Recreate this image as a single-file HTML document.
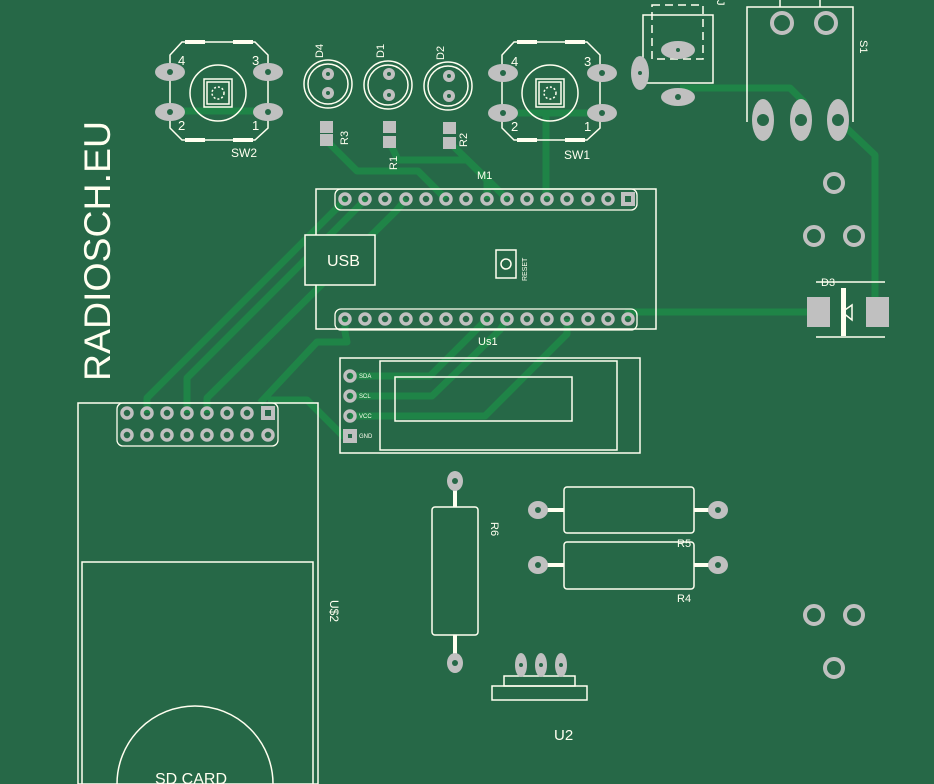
<!DOCTYPE html>
<html><head><meta charset="utf-8"><style>
html,body{margin:0;padding:0;background:#266847;}
svg{display:block}
text{font-family:"Liberation Sans",sans-serif;fill:#fffff0}
</style></head><body>
<svg width="934" height="784" viewBox="0 0 934 784" xmlns="http://www.w3.org/2000/svg">
<rect width="934" height="784" fill="#266847"/>
<g stroke="#1f8447" stroke-width="7" fill="none" stroke-linejoin="round">
<polyline points="172,111 268,111"/>
<polyline points="503,113 602,113"/>
<polyline points="546,113 546,199"/>
<polyline points="838,120 875,155 875,312 877,312"/>
<polyline points="818,312 628,312 628,319"/>
<polyline points="680,88 790,88 805,103"/>
<polyline points="326,140 357,171 418,171 437,190 446,199"/>
<polyline points="389,141 398,160 467,160 487,180 487,199"/>
<polyline points="449,142 480,172 507,199"/>
<polyline points="345,199 340,205 147,398 147,413"/>
<polyline points="366,199 355,210 187,378 187,413"/>
<polyline points="406,199 397,210 207,398 207,413"/>
<polyline points="345,319 345,332 347,342 317,342 260,403"/>
<polyline points="268,400 307,400 343,436 350,436"/>
<polyline points="350,376 430,376 473,333 487,319"/>
<polyline points="350,396 432,396 500,330 507,319"/>
<polyline points="350,416 485,416 567,334 567,319"/>
</g>

<text transform="translate(110,381) rotate(-90)" font-size="37" textLength="260" lengthAdjust="spacingAndGlyphs">RADIOSCH.EU</text>

<g stroke="#fffff0" fill="none" stroke-width="1.5">
<polygon points="182,42 255,42 268,55 268,128 255,140 182,140 170,128 170,55"/>
<circle cx="218" cy="93" r="28"/>
<rect x="204" y="79" width="28" height="28"/><rect x="207" y="82" width="22" height="22"/>
<circle cx="218" cy="93" r="6" stroke-dasharray="2,2"/>
<polygon points="514,42 587,42 600,55 600,128 587,140 514,140 502,128 502,55"/>
<circle cx="550" cy="93" r="28"/>
<rect x="536" y="79" width="28" height="28"/><rect x="539" y="82" width="22" height="22"/>
<circle cx="550" cy="93" r="6" stroke-dasharray="2,2"/>
</g>
<g fill="#fffff0">
<rect x="185" y="40" width="20" height="4"/><rect x="233" y="40" width="20" height="4"/>
<rect x="185" y="138" width="20" height="4"/><rect x="233" y="138" width="20" height="4"/>
<rect x="517" y="40" width="20" height="4"/><rect x="565" y="40" width="20" height="4"/>
<rect x="517" y="138" width="20" height="4"/><rect x="565" y="138" width="20" height="4"/>
</g>
<g fill="#c0c0c0">
<ellipse cx="170" cy="72" rx="15" ry="9"/><ellipse cx="268" cy="72" rx="15" ry="9"/>
<ellipse cx="170" cy="112" rx="15" ry="9"/><ellipse cx="268" cy="112" rx="15" ry="9"/>
<ellipse cx="503" cy="73" rx="15" ry="9"/><ellipse cx="602" cy="73" rx="15" ry="9"/>
<ellipse cx="503" cy="113" rx="15" ry="9"/><ellipse cx="602" cy="113" rx="15" ry="9"/>
</g>
<g fill="#266847">
<circle cx="170" cy="72" r="3"/><circle cx="268" cy="72" r="3"/><circle cx="170" cy="112" r="3"/><circle cx="268" cy="112" r="3"/>
<circle cx="503" cy="73" r="3"/><circle cx="602" cy="73" r="3"/><circle cx="503" cy="113" r="3"/><circle cx="602" cy="113" r="3"/>
</g>
<g font-size="13">
<text x="178" y="65">4</text><text x="252" y="65">3</text><text x="178" y="130">2</text><text x="252" y="130">1</text>
<text x="511" y="66">4</text><text x="584" y="66">3</text><text x="511" y="131">2</text><text x="584" y="131">1</text>
<text x="231" y="157" font-size="12">SW2</text><text x="564" y="159" font-size="12">SW1</text>
</g>

<g stroke="#fffff0" fill="none" stroke-width="1.5">
<circle cx="328" cy="84" r="24"/><circle cx="328" cy="84" r="20"/>
<circle cx="388" cy="85" r="24"/><circle cx="388" cy="85" r="20"/>
<circle cx="448" cy="86" r="24"/><circle cx="448" cy="86" r="20"/>
</g>
<g fill="#c0c0c0">
<circle cx="328" cy="74" r="6"/><circle cx="328" cy="93" r="6"/>
<circle cx="389" cy="74" r="6"/><circle cx="389" cy="95" r="6"/>
<circle cx="449" cy="76" r="6"/><circle cx="449" cy="96" r="6"/>
<rect x="320" y="121" width="13" height="12"/><rect x="320" y="134" width="13" height="12"/>
<rect x="383" y="121" width="13" height="12"/><rect x="383" y="136" width="13" height="12"/>
<rect x="443" y="122" width="13" height="12"/><rect x="443" y="137" width="13" height="12"/>
</g>
<g fill="#266847"><circle cx="328" cy="74" r="2"/><circle cx="328" cy="93" r="2"/><circle cx="389" cy="74" r="2"/><circle cx="389" cy="95" r="2"/><circle cx="449" cy="76" r="2"/><circle cx="449" cy="96" r="2"/></g>
<g font-size="11">
<text transform="translate(323,58) rotate(-90)">D4</text>
<text transform="translate(384,58) rotate(-90)">D1</text>
<text transform="translate(444,60) rotate(-90)">D2</text>
<text transform="translate(348,145) rotate(-90)">R3</text>
<text transform="translate(397,170) rotate(-90)">R1</text>
<text transform="translate(467,147) rotate(-90)">R2</text>
<text x="477" y="179">M1</text>
<text x="478" y="345">Us1</text>
</g>

<g stroke="#fffff0" fill="none" stroke-width="1.5">
<rect x="316" y="189" width="340" height="140"/>
<rect x="305" y="235" width="70" height="50" fill="#266847"/>
<rect x="496" y="250" width="20" height="28"/><circle cx="506" cy="264" r="5"/>
<rect x="340" y="358" width="300" height="95"/>
<rect x="380" y="361" width="237" height="89"/>
<rect x="395" y="377" width="177" height="44"/>
<rect x="78" y="403" width="240" height="381"/>
<rect x="82" y="562" width="231" height="230"/>
<path d="M117,784 A78,78 0 0 1 273,784"/>
</g>
<text x="327" y="266" font-size="16">USB</text>
<text transform="translate(527,281) rotate(-90)" font-size="7">RESET</text>
<g fill="none" stroke="#c0c0c0" stroke-width="3.5">
<circle cx="345" cy="199" r="5"/><circle cx="365" cy="199" r="5"/><circle cx="385" cy="199" r="5"/><circle cx="406" cy="199" r="5"/><circle cx="426" cy="199" r="5"/><circle cx="446" cy="199" r="5"/><circle cx="466" cy="199" r="5"/><circle cx="487" cy="199" r="5"/><circle cx="507" cy="199" r="5"/><circle cx="527" cy="199" r="5"/><circle cx="547" cy="199" r="5"/><circle cx="567" cy="199" r="5"/><circle cx="588" cy="199" r="5"/><circle cx="608" cy="199" r="5"/>
<circle cx="345" cy="319" r="5"/><circle cx="365" cy="319" r="5"/><circle cx="385" cy="319" r="5"/><circle cx="406" cy="319" r="5"/><circle cx="426" cy="319" r="5"/><circle cx="446" cy="319" r="5"/><circle cx="466" cy="319" r="5"/><circle cx="487" cy="319" r="5"/><circle cx="507" cy="319" r="5"/><circle cx="527" cy="319" r="5"/><circle cx="547" cy="319" r="5"/><circle cx="567" cy="319" r="5"/><circle cx="588" cy="319" r="5"/><circle cx="608" cy="319" r="5"/><circle cx="628" cy="319" r="5"/>
<circle cx="127" cy="413" r="5"/><circle cx="147" cy="413" r="5"/><circle cx="167" cy="413" r="5"/><circle cx="187" cy="413" r="5"/><circle cx="207" cy="413" r="5"/><circle cx="227" cy="413" r="5"/><circle cx="247" cy="413" r="5"/>
<circle cx="127" cy="435" r="5"/><circle cx="147" cy="435" r="5"/><circle cx="167" cy="435" r="5"/><circle cx="187" cy="435" r="5"/><circle cx="207" cy="435" r="5"/><circle cx="227" cy="435" r="5"/><circle cx="247" cy="435" r="5"/><circle cx="268" cy="435" r="5"/>
<circle cx="350" cy="376" r="5"/><circle cx="350" cy="396" r="5"/><circle cx="350" cy="416" r="5"/>
</g>
<g fill="#c0c0c0">
<rect x="621" y="192" width="14" height="14"/>
<rect x="261" y="406" width="14" height="14"/>
<rect x="343" y="429" width="14" height="14"/>
</g>
<g fill="#266847"><rect x="625" y="196" width="6" height="6"/><rect x="265" y="410" width="6" height="6"/><rect x="348" y="434" width="4" height="4"/></g>
<g stroke="#fffff0" fill="none" stroke-width="1.3">
<rect x="335" y="189" width="302" height="21" rx="6"/>
<rect x="335" y="309" width="302" height="21" rx="6"/>
<rect x="117" y="403" width="161" height="43" rx="6"/>
</g>
<g font-size="6"><text x="359" y="378">SDA</text><text x="359" y="398">SCL</text><text x="359" y="418">VCC</text><text x="359" y="438">GND</text></g>
<text transform="translate(330,600) rotate(90)" font-size="12">U$2</text>
<text x="155" y="784" font-size="16">SD CARD</text>

<g stroke="#fffff0" stroke-width="4"><line x1="455" y1="481" x2="455" y2="507"/><line x1="455" y1="635" x2="455" y2="663"/>
<line x1="538" y1="510" x2="564" y2="510"/><line x1="694" y1="510" x2="718" y2="510"/>
<line x1="538" y1="565" x2="564" y2="565"/><line x1="694" y1="565" x2="718" y2="565"/></g>
<g stroke="#fffff0" fill="none" stroke-width="1.5">
<rect x="432" y="507" width="46" height="128" rx="3"/>
<rect x="564" y="487" width="130" height="46" rx="3"/>
<rect x="564" y="542" width="130" height="47" rx="3"/>
<rect x="504" y="676" width="71" height="10"/>
<rect x="492" y="686" width="95" height="14"/>
<rect x="643" y="15" width="70" height="68"/>
<rect x="652" y="5" width="51" height="54" stroke-dasharray="8,5"/>
<polyline points="747,122 747,7 853,7 853,122"/>
<line x1="780" y1="0" x2="780" y2="7"/><line x1="820" y1="0" x2="820" y2="7"/>
<line x1="816" y1="282" x2="885" y2="282"/><line x1="816" y1="337" x2="885" y2="337"/>
<polygon points="852,305 852,320 842,312"/>
</g>
<rect x="841" y="288" width="5" height="48" fill="#fffff0"/>
<g fill="#c0c0c0">
<ellipse cx="455" cy="481" rx="8" ry="10"/><ellipse cx="455" cy="663" rx="8" ry="10"/>
<ellipse cx="538" cy="510" rx="10" ry="9"/><ellipse cx="718" cy="510" rx="10" ry="9"/>
<ellipse cx="538" cy="565" rx="10" ry="9"/><ellipse cx="718" cy="565" rx="10" ry="9"/>
<ellipse cx="521" cy="665" rx="6" ry="12"/><ellipse cx="541" cy="665" rx="6" ry="12"/><ellipse cx="561" cy="665" rx="6" ry="12"/>
<ellipse cx="678" cy="50" rx="17" ry="9"/><ellipse cx="640" cy="73" rx="9" ry="17"/><ellipse cx="678" cy="97" rx="17" ry="9"/>
<ellipse cx="763" cy="120" rx="11" ry="21"/><ellipse cx="801" cy="120" rx="11" ry="21"/><ellipse cx="838" cy="120" rx="11" ry="21"/>
<rect x="807" y="297" width="23" height="30"/><rect x="866" y="297" width="23" height="30"/>
</g>
<g fill="#266847"><circle cx="455" cy="481" r="3"/><circle cx="455" cy="663" r="3"/><circle cx="538" cy="510" r="3"/><circle cx="718" cy="510" r="3"/><circle cx="538" cy="565" r="3"/><circle cx="718" cy="565" r="3"/>
<circle cx="521" cy="665" r="2"/><circle cx="541" cy="665" r="2"/><circle cx="561" cy="665" r="2"/>
<circle cx="678" cy="50" r="2"/><circle cx="640" cy="73" r="2"/><circle cx="678" cy="97" r="3"/>
<circle cx="763" cy="120" r="6"/><circle cx="801" cy="120" r="6"/><circle cx="838" cy="120" r="6"/></g>
<g fill="none" stroke="#c0c0c0" stroke-width="4">
<circle cx="782" cy="23" r="10"/><circle cx="826" cy="23" r="10"/>
<circle cx="834" cy="183" r="9"/><circle cx="814" cy="236" r="9"/><circle cx="854" cy="236" r="9"/>
<circle cx="814" cy="615" r="9"/><circle cx="854" cy="615" r="9"/><circle cx="834" cy="668" r="9"/>
</g>
<g font-size="11">
<text transform="translate(491,522) rotate(90)">R6</text>
<text x="677" y="547">R5</text><text x="677" y="602">R4</text>
<text x="554" y="740" font-size="15">U2</text>
<text x="821" y="286">D3</text>
<text transform="translate(860,40) rotate(90)">S1</text>
<text transform="translate(717,0) rotate(90)">J</text>
</g>
</svg>
</body></html>
